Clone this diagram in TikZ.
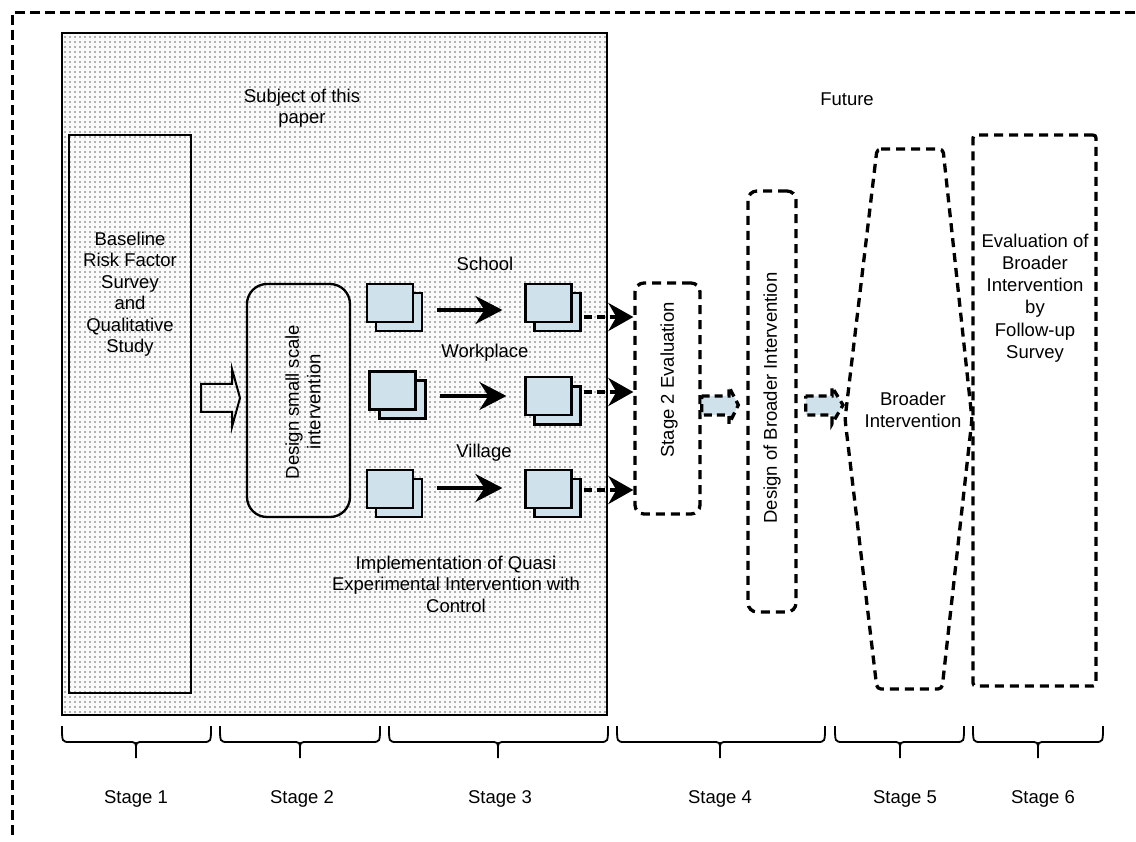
\documentclass[tikz,border=0pt]{standalone}
\usepackage{fontspec}
\setmainfont{Liberation Sans}
\usetikzlibrary{arrows.meta,patterns.meta,calc}
\definecolor{docblue}{RGB}{207,226,235}
\definecolor{dotgray}{RGB}{105,105,105}
\begin{document}
\begin{tikzpicture}[x=1pt,y=-1pt,
  txt/.style={font=\fontsize{18.5}{21.5}\selectfont, align=center, inner sep=0pt},
  solidbox/.style={draw, line width=2.3pt, inner sep=0pt},
  dbox/.style={draw, line width=3.3pt, dash pattern=on 9pt off 6pt, inner sep=0pt},
  doc/.style={draw, line width=2.2pt, fill=docblue, minimum width=46pt, minimum height=38pt, inner sep=0pt},
  bigarrow/.style={line width=3.2pt, -{Stealth[length=27pt,width=28pt,inset=9pt]}},
  dasharrow/.style={line width=3.8pt, dash pattern=on 8pt off 5pt, -{Stealth[length=25pt,width=28pt,inset=8pt]}},
  bluearrow/.style={draw, line width=3.3pt, dash pattern=on 8pt off 5pt, fill=docblue},
  bracepath/.style={line width=1.8pt}
]
\useasboundingbox (0,0) rectangle (1136,842);

% outer dashed frame
\draw[line width=3pt, dash pattern=on 10pt off 5pt] (12,835) -- (12,13) -- (1136,13);

% shaded area (subject of this paper)
\path[fill=gray!4] (62,33) rectangle (607,715);
\path[pattern={Dots[distance=5pt,radius=0.8pt]}, pattern color=dotgray] (62,33) rectangle (607,715);
\draw[line width=2.3pt] (62,33) rectangle (607,715);

\node[txt] (subj) at (302,108) {Subject of this\\paper};
\node[txt] (future) at (847,99) {Future};

% Stage 1
\node[solidbox, minimum width=122pt, minimum height=558pt] (s1) at (130,414) {};
\node[txt] (s1t) at (130,294) {Baseline\\Risk Factor\\Survey\\and\\Qualitative\\Study};

% open arrow
\draw[line width=2pt] (201,384) -- (232,384) -- (232,369) -- (240,398) -- (232,427) -- (232,412) -- (201,412) -- cycle;

% Stage 2
\node[solidbox, rounded corners=20pt, minimum width=103pt, minimum height=233pt] (d2) at (298.5,400.5) {};
\node[txt, rotate=90] (d2t) at (303,402) {Design small scale\\intervention};

% documents
\node[doc] (sL1b) at (399,312) {};   \node[doc] (sL1) at (390,303) {};
\node[doc] (sL2b) at (402.5,399.5) {}; \node[doc] (sL2) at (392.5,390.5) {};
\node[doc] (sL3b) at (399,498) {};   \node[doc] (sL3) at (390,489) {};
\node[doc] (sR1b) at (557.5,312) {}; \node[doc] (sR1) at (548.5,303) {};
\node[doc] (sR2b) at (557.5,405.5) {}; \node[doc] (sR2) at (548.5,396) {};
\node[doc] (sR3b) at (557.5,498) {}; \node[doc] (sR3) at (548.5,489) {};

\node[txt] (school) at (485,264) {School};
\node[txt] (work) at (485,353) {Workplace};
\node[txt] (vill) at (484,453) {Village};

\draw[bigarrow, shorten <=14pt, shorten >=22pt] (sL1b.east |- 0,310) -- (sR1.west |- 0,310);
\draw[bigarrow, shorten <=13pt, shorten >=18pt] (sL2b.east |- 0,396) -- (sR2.west |- 0,396);
\draw[bigarrow, shorten <=14pt, shorten >=22pt] (sL3b.east |- 0,488) -- (sR3.west |- 0,488);

\node[txt] (impl) at (456,584) {Implementation of Quasi\\Experimental Intervention with\\Control};

% Stage 2 evaluation
\node[dbox, rounded corners=9pt, minimum width=65pt, minimum height=231pt] (e2) at (667.5,398.5) {};
\node[txt, rotate=90] (e2t) at (669,380) {Stage 2 Evaluation};

\draw[dasharrow, shorten <=2pt] (sR1b.east |- 0,317) -- (e2.west |- 0,317);
\draw[dasharrow, shorten <=2pt] (sR2b.east |- 0,392) -- (e2.west |- 0,392);
\draw[dasharrow, shorten <=2pt] (sR3b.east |- 0,490) -- (e2.west |- 0,490);

% Design of broader intervention
\node[dbox, rounded corners=9pt, minimum width=48pt, minimum height=421pt] (dbi) at (772,401.5) {};
\node[txt, rotate=90] (dbit) at (772,398) {Design of Broader Intervention};

% blue block arrows
\path[bluearrow] (e2.east |- 0,396) -- (729,396) -- (729,387) -- ($(dbi.west |- 0,405)+(-8,0)$) -- (729,424) -- (729,415) -- (e2.east |- 0,415) -- cycle;
\path[bluearrow] ($(dbi.east |- 0,396)+(8,0)$) -- (832,396) -- (832,387) -- (843,405) -- (832,424) -- (832,415) -- ($(dbi.east |- 0,415)+(8,0)$) -- cycle;

% Broader intervention hexagon
\draw[line width=3.3pt, dash pattern=on 9pt off 6pt, rounded corners=4pt]
  (877,149) -- (943,149) -- (972,419) -- (942,689) -- (877,689) -- (845,419) -- cycle;
\node[txt] (bi) at (913,410) {Broader\\Intervention};

% Evaluation of broader intervention
\node[dbox, rounded corners=3pt, minimum width=123pt, minimum height=551pt] (ev) at (1034.5,410.5) {};
\node[txt, font=\fontsize{18.5}{22.2}\selectfont] (evt) at (1035,298) {Evaluation of\\Broader\\Intervention\\by\\Follow-up\\Survey};

% braces and stage labels
\foreach \a/\m/\b in {62/136/211, 220/300/380, 389/498/608, 617/720/825, 835/900/964, 973/1038/1103}{
  \draw[bracepath] (\a,726) .. controls (\a,742) .. (\a+8,742) -- (\m-8,742)
     .. controls (\m,742) .. (\m,750) -- (\m,758);
  \draw[bracepath] (\b,726) .. controls (\b,742) .. (\b-8,742) -- (\m+8,742)
     .. controls (\m,742) .. (\m,750);
}
\node[txt] (st1) at (136,799) {Stage 1};
\node[txt] (st2) at (302,799) {Stage 2};
\node[txt] (st3) at (500,799) {Stage 3};
\node[txt] (st4) at (720,799) {Stage 4};
\node[txt] (st5) at (905,799) {Stage 5};
\node[txt] (st6) at (1043,799) {Stage 6};
\end{tikzpicture}
\end{document}
